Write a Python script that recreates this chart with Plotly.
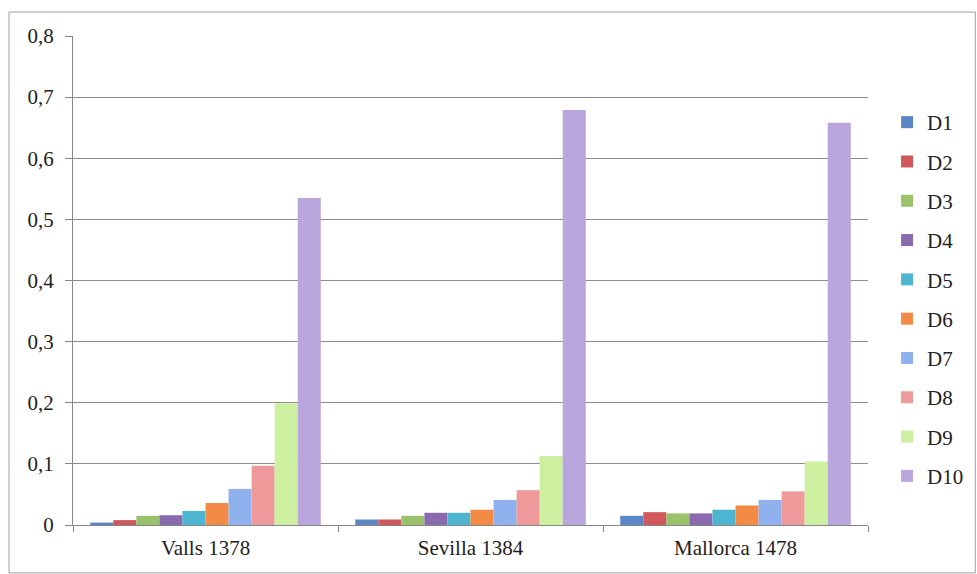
import plotly.graph_objects as go

categories = ["Valls 1378", "Sevilla 1384", "Mallorca 1478"]
series_names = ["D1", "D2", "D3", "D4", "D5", "D6", "D7", "D8", "D9", "D10"]
valls = [0.004, 0.008, 0.015, 0.016, 0.023, 0.036, 0.059, 0.097, 0.199, 0.535]
sevilla = [0.009, 0.009, 0.015, 0.020, 0.020, 0.025, 0.041, 0.057, 0.113, 0.679]
mallorca = [0.015, 0.021, 0.019, 0.019, 0.025, 0.032, 0.041, 0.055, 0.104, 0.658]
colors = ["#5B86C5", "#D0575A", "#9BC26A", "#8A6AAE", "#4DB5D0",
          "#F38A45", "#8FB2EE", "#EE9A9A", "#CDEFA0", "#B8A6DC"]

fig = go.Figure()
for i, name in enumerate(series_names):
    fig.add_trace(go.Bar(
        x=categories,
        y=[valls[i], sevilla[i], mallorca[i]],
        name=name,
        legendgroup=name,
        marker=dict(color=colors[i], line=dict(width=0)),
    ))

font_family = "Liberation Serif"
fs = 21
fig.update_layout(
    width=977, height=574,
    barmode="group", bargap=0.13, bargroupgap=0,
    separators=",.",
    paper_bgcolor="white", plot_bgcolor="white",
    margin=dict(l=73, r=109, t=36, b=49, autoexpand=False),
    font=dict(family=font_family, size=fs, color="#222222"),
    xaxis=dict(
        showline=True, linecolor="#868686", linewidth=1,
        ticks="outside", tickson="boundaries", ticklen=6, tickcolor="#868686",
        showgrid=False, tickfont=dict(size=fs, family=font_family),
        automargin=False, ticklabelstandoff=4,
    ),
    yaxis=dict(
        range=[0, 0.8], dtick=0.1,
        showline=True, linecolor="#868686", linewidth=1,
        ticks="outside", ticklen=7, tickcolor="#868686",
        showgrid=True, gridcolor="#8C8C8C", gridwidth=1,
        zeroline=False, tickfont=dict(size=fs, family=font_family),
        automargin=False, ticklabelstandoff=7,
    ),
    legend=dict(
        x=1.024, y=0.865, xanchor="left", yanchor="top",
        tracegroupgap=9, font=dict(size=fs, family=font_family),
        itemwidth=30, traceorder="grouped",
    ),
    shapes=[dict(
        type="rect", xref="paper", yref="paper",
        x0=-0.0805, x1=1.135, y0=-0.098, y1=1.049,
        line=dict(color="#A0A0A0", width=1), fillcolor="rgba(0,0,0,0)",
    )],
)

fig.write_html("out.html", config={"displayModeBar": False},
               post_script="document.body.style.margin='0';document.body.style.padding='0';")
